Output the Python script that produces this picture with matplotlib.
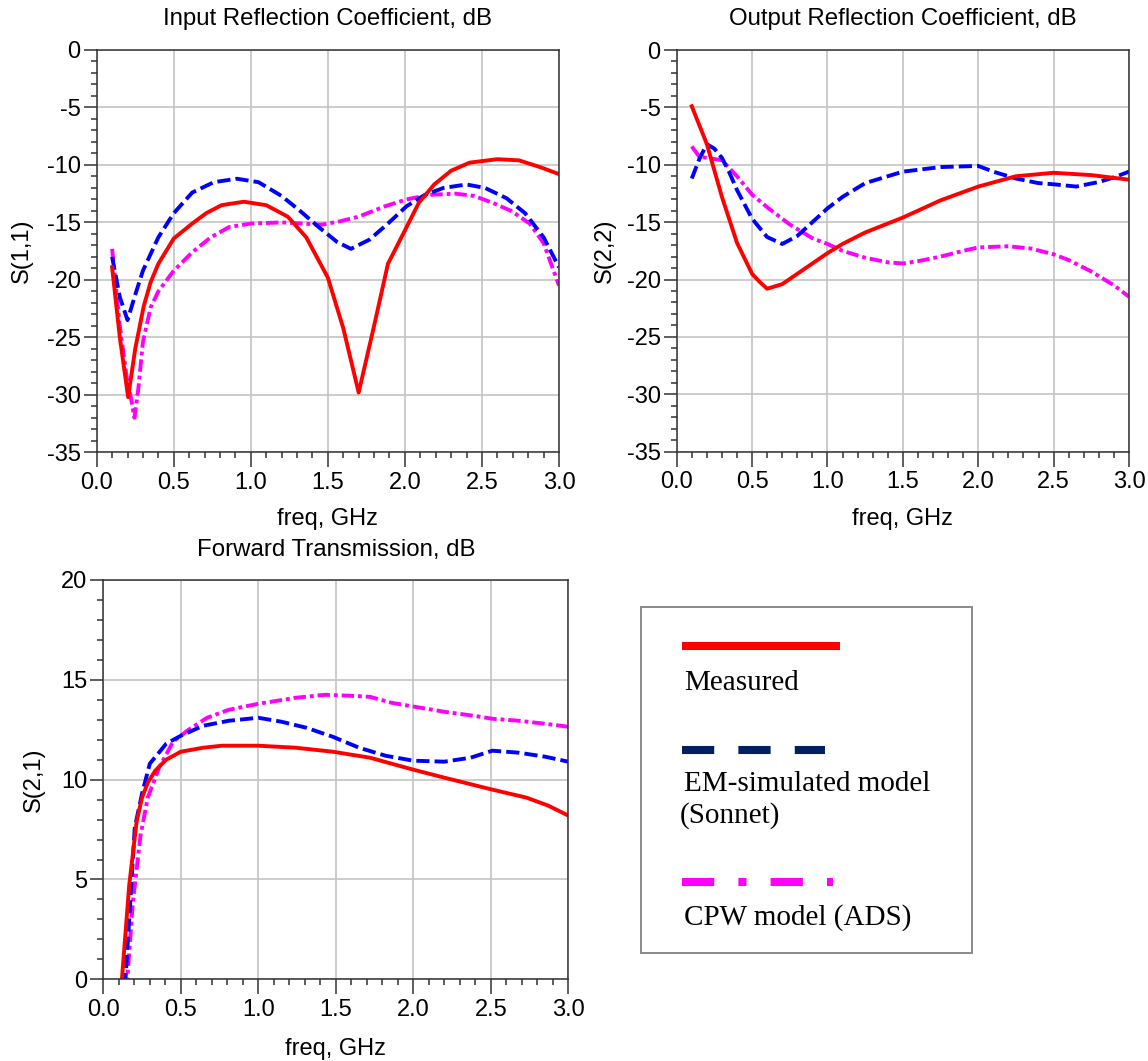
import matplotlib
matplotlib.use("Agg")
import matplotlib.pyplot as plt
from matplotlib.ticker import MultipleLocator, FormatStrFormatter

plt.rcParams['font.family'] = ['Liberation Sans', 'DejaVu Sans']
plt.rcParams['axes.unicode_minus'] = False

# ---- S(1,1) input reflection, dB
s11_meas_f = [0.1, 0.15, 0.204, 0.25, 0.305, 0.35, 0.4, 0.5, 0.62, 0.71, 0.81, 0.955, 1.1, 1.24, 1.36, 1.5,
              1.6, 1.7, 1.8, 1.89, 2.0, 2.09, 2.19, 2.3, 2.42, 2.6, 2.74, 2.88, 3.0]
s11_meas = [-18.9, -25.0, -30.2, -26.0, -22.3, -20.2, -18.6, -16.4, -15.1, -14.2, -13.5, -13.2, -13.5, -14.5, -16.3, -19.8,
            -24.2, -29.8, -24.0, -18.6, -15.7, -13.3, -11.7, -10.5, -9.8, -9.5, -9.6, -10.2, -10.8]
s11_son_f = [0.1, 0.15, 0.2, 0.25, 0.3, 0.4, 0.5, 0.62, 0.76, 0.91, 1.05, 1.2, 1.32, 1.44, 1.56, 1.65, 1.77,
             1.89, 2.01, 2.13, 2.25, 2.4, 2.52, 2.66, 2.78, 2.9, 3.0]
s11_son = [-18.0, -21.5, -23.5, -21.3, -19.2, -16.3, -14.2, -12.4, -11.5, -11.2, -11.5, -12.7, -14.0, -15.4, -16.7, -17.3, -16.5,
           -15.1, -13.6, -12.6, -12.0, -11.7, -12.0, -12.9, -14.2, -16.3, -18.9]
s11_ads_f = [0.1, 0.15, 0.2, 0.22, 0.245, 0.27, 0.3, 0.35, 0.4, 0.5, 0.62, 0.74, 0.86, 1.0, 1.2, 1.34, 1.46,
             1.58, 1.7, 1.87, 2.01, 2.16, 2.33, 2.45, 2.57, 2.69, 2.81, 2.9, 3.0]
s11_ads = [-17.3, -24.0, -29.0, -30.1, -32.0, -29.5, -25.4, -22.4, -21.0, -19.2, -17.6, -16.3, -15.4, -15.1, -15.0, -15.1, -15.2,
           -14.9, -14.5, -13.6, -13.0, -12.6, -12.5, -12.7, -13.3, -14.0, -15.1, -16.8, -20.5]

# ---- S(2,2) output reflection, dB
s22_meas_f = [0.1, 0.2, 0.3, 0.4, 0.5, 0.55, 0.6, 0.7, 0.8, 0.9, 1.0, 1.1, 1.25, 1.5, 1.75, 2.0, 2.25, 2.5, 2.75, 3.0]
s22_meas = [-4.9, -8.2, -12.8, -16.8, -19.5, -20.2, -20.8, -20.4, -19.5, -18.6, -17.7, -16.9, -15.9, -14.6, -13.1,
            -11.9, -11.0, -10.7, -10.9, -11.3]
s22_son_f = [0.1, 0.15, 0.2, 0.25, 0.3, 0.35, 0.4, 0.5, 0.6, 0.7, 0.8, 0.9, 1.0, 1.1, 1.25, 1.5, 1.75, 2.0, 2.1,
             2.25, 2.4, 2.5, 2.65, 2.8, 2.9, 3.0]
s22_son = [-11.2, -9.5, -8.2, -8.6, -9.4, -10.7, -12.2, -14.7, -16.3, -16.9, -16.2, -15.0, -13.8, -12.8, -11.6, -10.6,
           -10.2, -10.1, -10.6, -11.2, -11.6, -11.7, -11.9, -11.5, -11.1, -10.6]
s22_ads_f = [0.1, 0.15, 0.2, 0.3, 0.4, 0.5, 0.6, 0.75, 0.9, 1.0, 1.1, 1.25, 1.4, 1.5, 1.6, 1.75, 1.9, 2.0, 2.2,
             2.35, 2.5, 2.6, 2.75, 2.9, 3.0]
s22_ads = [-8.4, -9.3, -9.4, -9.6, -11.0, -12.6, -13.7, -15.2, -16.4, -16.9, -17.5, -18.1, -18.5, -18.6, -18.4,
           -18.0, -17.5, -17.2, -17.1, -17.3, -17.8, -18.3, -19.3, -20.5, -21.5]

# ---- S(2,1) forward transmission, dB
s21_meas_f = [0.1, 0.12, 0.167, 0.215, 0.25, 0.287, 0.335, 0.406, 0.5, 0.645, 0.765, 1.0, 1.24, 1.48, 1.72, 2.0,
              2.2, 2.51, 2.73, 2.87, 3.0]
s21_meas = [-3.0, 0.0, 4.7, 7.9, 9.1, 9.85, 10.45, 11.0, 11.4, 11.6, 11.7, 11.7, 11.6, 11.4, 11.1, 10.5,
            10.1, 9.5, 9.1, 8.7, 8.2]
s21_son_f = [0.1, 0.143, 0.167, 0.203, 0.25, 0.3, 0.406, 0.5, 0.645, 0.81, 1.0, 1.15, 1.31, 1.48, 1.65, 1.82, 2.0,
             2.2, 2.37, 2.51, 2.68, 2.85, 3.0]
s21_son = [-4.0, 0.0, 3.0, 7.6, 9.3, 10.8, 11.8, 12.2, 12.7, 12.95, 13.1, 12.9, 12.6, 12.15, 11.6, 11.2, 10.95,
           10.9, 11.1, 11.45, 11.35, 11.15, 10.9]
s21_ads_f = [0.1, 0.155, 0.19, 0.24, 0.287, 0.36, 0.45, 0.55, 0.67, 0.81, 1.0, 1.24, 1.43, 1.6, 1.72, 1.86, 2.01,
             2.2, 2.39, 2.51, 2.68, 2.85, 3.0]
s21_ads = [-5.0, 0.0, 3.8, 7.2, 9.1, 10.6, 11.9, 12.5, 13.1, 13.5, 13.8, 14.1, 14.25, 14.2, 14.15, 13.85, 13.65,
           13.4, 13.2, 13.05, 12.95, 12.8, 12.65]

legend_labels = ['Measured', 'EM-simulated model\n(Sonnet)', 'CPW model (ADS)']

RED = '#ff0000'
BLUE = '#0000ff'
MAG = '#ff00ff'
LW = 2.8

fig = plt.figure(figsize=(11.48, 10.61), dpi=100)


def make_axes(rect, ylim, ymajor, title, ylabel, title_off, xlab_off, ylab_off):
    ax = fig.add_axes(rect)
    ax.set_xlim(0, 3.0)
    ax.set_ylim(*ylim)
    ax.xaxis.set_major_locator(MultipleLocator(0.5))
    ax.xaxis.set_minor_locator(MultipleLocator(0.1))
    ax.xaxis.set_major_formatter(FormatStrFormatter('%.1f'))
    ax.yaxis.set_major_locator(MultipleLocator(ymajor))
    ax.yaxis.set_minor_locator(MultipleLocator(1))
    ax.grid(True, which='major', color='#c4c4c4', linewidth=1.2)
    ax.set_axisbelow(True)
    ax.tick_params(which='major', direction='out', labelsize=17, color='#333333', width=1.1)
    ax.tick_params(axis='x', which='major', length=11, pad=3)
    ax.tick_params(axis='y', which='major', length=9.5, pad=2)
    ax.tick_params(which='minor', direction='out', length=4.5, color='#333333', width=1.1)
    for sp in ax.spines.values():
        sp.set_color('#333333')
        sp.set_linewidth(1.1)
    h_px = rect[3] * 1061
    w_px = rect[2] * 1148
    ax.text(0.5, 1 + title_off / h_px, title, transform=ax.transAxes, ha='center', va='center', fontsize=17.3)
    ax.set_xlabel('freq, GHz', fontsize=17)
    ax.xaxis.set_label_coords(0.5, -xlab_off / h_px)
    ax.xaxis.label.set_va('center')
    ax.set_ylabel(ylabel, fontsize=17)
    ax.yaxis.set_label_coords(-ylab_off / w_px, 0.5)
    ax.yaxis.label.set_va('center')
    return ax


ax1 = make_axes([96.7 / 1148, 608.7 / 1061, 462.3 / 1148, 402.3 / 1061], (-35, 0), 5,
                'Input Reflection Coefficient, dB', 'S(1,1)', 31.5, 67, 75)
ax2 = make_axes([676.7 / 1148, 609.3 / 1061, 452.3 / 1148, 401.7 / 1061], (-35, 0), 5,
                'Output Reflection Coefficient, dB', 'S(2,2)', 31.5, 67, 72)
ax3 = make_axes([103.3 / 1148, 81.7 / 1061, 465.0 / 1148, 399.3 / 1061], (0, 20), 5,
                'Forward Transmission, dB', 'S(2,1)', 30, 69.5, 69)

blue_dash = (3.4, 1.3)
mag_dash = (3.2, 1.0, 1.0, 1.0)

for ax, data in [(ax1, (s11_meas_f, s11_meas, s11_son_f, s11_son, s11_ads_f, s11_ads)),
                 (ax2, (s22_meas_f, s22_meas, s22_son_f, s22_son, s22_ads_f, s22_ads)),
                 (ax3, (s21_meas_f, s21_meas, s21_son_f, s21_son, s21_ads_f, s21_ads))]:
    mf, m, sf, s, af, a = data
    ax.plot(af, a, color=MAG, lw=LW, dashes=mag_dash)
    ax.plot(sf, s, color=BLUE, lw=LW, dashes=blue_dash)
    ax.plot(mf, m, color=RED, lw=LW)

# ---- legend box (drawn by hand: text sits under each line sample)
lg = fig.add_axes([640.7 / 1148, 108.3 / 1061, 331 / 1148, 346 / 1061])
lg.set_xlim(0, 331)
lg.set_ylim(346, 0)
lg.set_xticks([])
lg.set_yticks([])
for sp in lg.spines.values():
    sp.set_color('#8a8a8a')
    sp.set_linewidth(1.4)

lg.plot([41, 199.3], [39.3, 39.3], color=RED, lw=5.8, solid_capstyle='butt')
lg.plot([41, 184.3], [143.3, 143.3], color='#002060', lw=5.8, dashes=(4, 3), dash_capstyle='butt')
lg.plot([41, 192.3], [275.6, 275.6], color=MAG, lw=5.8, dashes=(4, 3, 1, 3), dash_capstyle='butt')

serif = ['Liberation Serif', 'DejaVu Serif']
lg.text(43.3, 83.3, legend_labels[0], fontsize=21, family=serif, va='baseline')
lg.text(43.3, 184.3, legend_labels[1].split('\n')[0], fontsize=21, family=serif, va='baseline')
lg.text(39.3, 216.3, legend_labels[1].split('\n')[1], fontsize=21, family=serif, va='baseline')
lg.text(43.3, 318.3, legend_labels[2], fontsize=21, family=serif, va='baseline')

fig.savefig('out.png', dpi=100)
